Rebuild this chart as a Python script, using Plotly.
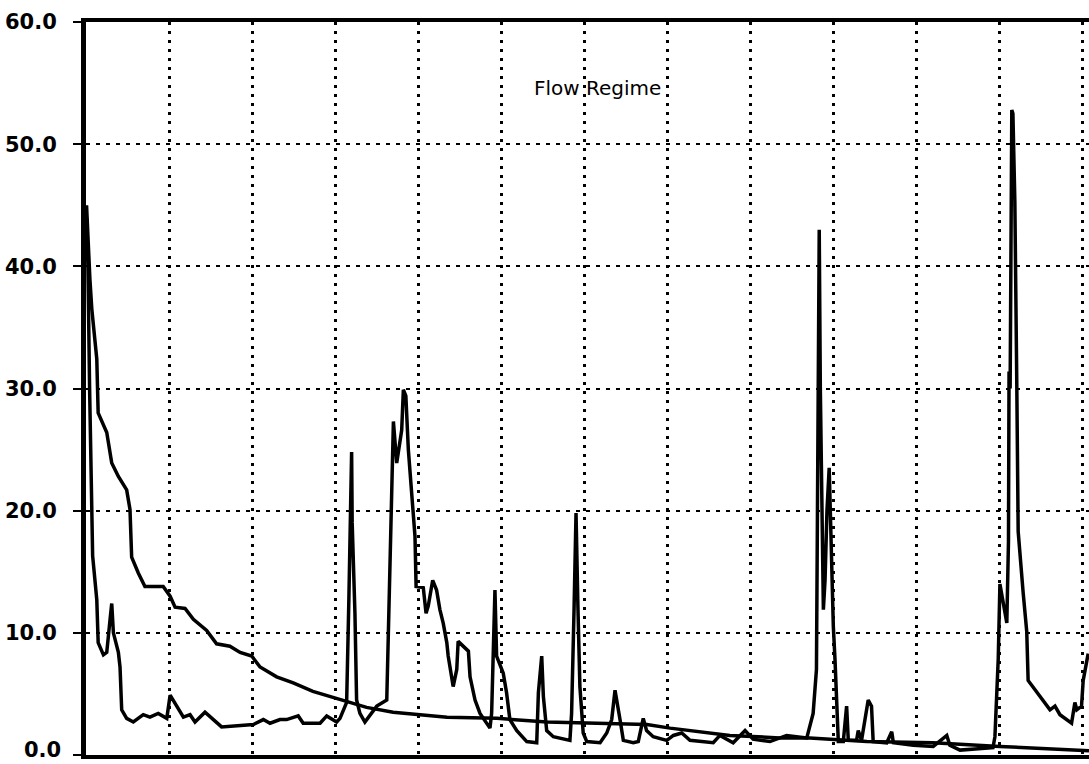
import plotly.graph_objects as go

# Hydrograph (day of record, flow)
hydro_day = [0.2, 0.7, 1.3, 1.8, 2.4, 3.9, 4.4, 6.3, 7.5, 8.7, 9.3, 9.9, 11.7, 12.3, 12.9, 14.7, 17.1,
             20.7, 23.1, 26.1, 29.2, 30.4, 32.8, 35.2, 37.6, 39.4, 43.0, 46.0, 49.0, 60.5, 64.1, 66.5,
             70.1, 72.5, 76.7, 78.5, 84.6, 87.0, 90.6, 91.8, 94.2, 95.0, 96.0, 96.2, 97.2, 97.8, 99.0,
             100.8, 105.1, 108.7, 109.3, 109.9, 110.5, 111.1, 112.3, 113.5, 114.1, 114.7, 115.6, 116.5,
             117.7, 118.9, 119.3, 121.9, 122.9, 123.7, 125.3, 126.7, 127.9, 129.1, 130.4, 130.9, 132.7,
             134.0, 134.5, 136.4, 138.2, 138.8, 140.6, 142.4, 144.8, 146.0, 146.6, 147.2, 147.8, 148.4,
             150.8, 152.0, 153.2, 155.7, 159.3, 162.9, 163.5, 164.7, 165.3, 166.5, 168.9, 174.9, 175.5,
             176.4, 177.1, 177.8, 178.5, 179.7, 181.0, 185.8, 188.2, 190.0, 191.2, 193.0, 194.2, 197.8,
             199.6, 201.4, 202.6, 205.0, 209.9, 212.3, 215.3, 218.3, 226.7, 229.1, 233.9, 238.2, 241.1,
             247.2, 253.2, 260.5, 262.8, 264.0, 264.5, 265.0, 265.4, 266.0, 266.5, 267.1, 267.8, 268.6,
             269.5, 270.1, 270.7, 271.3, 271.9, 273.7, 274.9, 275.5, 278.5, 279.1, 280.3, 282.7, 283.9,
             284.5, 289.4, 291.2, 291.8, 299.0, 306.2, 311.1, 312.2, 315.9, 327.8, 328.5, 329.1, 329.7,
             330.3, 331.5, 332.8, 333.4, 333.6, 334.0, 334.6, 335.0, 335.7, 336.4, 336.9, 338.7, 340.0,
             340.5, 344.8, 348.4, 350.2, 352.0, 356.2, 357.4, 358.1, 359.8, 360.4, 362.2]
hydro_flow = [44.0, 40.0, 30.0, 22.0, 16.3, 12.7, 9.2, 8.2, 8.4, 11.1, 12.4, 10.0, 8.4, 7.2, 3.7, 3.0, 2.7,
              3.3, 3.1, 3.4, 3.0, 4.9, 4.0, 3.1, 3.3, 2.7, 3.5, 2.9, 2.3, 2.5, 2.9, 2.6,
              2.9, 2.9, 3.2, 2.6, 2.6, 3.2, 2.7, 3.0, 4.3, 12.7, 24.8, 19.0, 11.6, 4.5, 3.4,
              2.7, 4.0, 4.5, 10.0, 16.8, 22.3, 27.3, 23.9, 25.6, 26.6, 29.9, 29.4, 25.0,
              21.2, 17.9, 13.8, 13.7, 11.6, 12.2, 14.3, 13.5, 11.9, 10.8, 9.2, 8.1, 5.6,
              7.0, 9.3, 8.9, 8.5, 6.4, 4.5, 3.4, 2.6, 2.2, 3.4, 7.8, 13.5, 8.1,
              6.7, 5.1, 2.9, 2.0, 1.1, 1.0, 5.1, 8.1, 4.8, 2.0, 1.5, 1.2, 3.4,
              12.0, 19.8, 12.0, 5.6, 1.8, 1.1, 1.0, 1.8, 2.9, 5.3, 2.9, 1.2, 1.0,
              1.1, 3.0, 2.0, 1.5, 1.2, 1.6, 1.8, 1.2, 1.0, 1.6, 1.0, 2.0, 1.3,
              1.1, 1.6, 1.4, 3.4, 7.0, 30.0, 43.0, 30.0, 20.0, 11.9, 14.3, 20.0, 23.5,
              14.3, 10.5, 7.8, 3.7, 1.1, 1.1, 4.0, 1.2, 1.2, 2.0, 1.2, 4.5, 4.0,
              1.1, 1.0, 1.9, 1.0, 0.8, 0.7, 1.6, 0.8, 0.4, 0.6, 1.5, 4.5, 7.9,
              14.0, 12.5, 10.8, 17.5, 31.4, 30.0, 52.8, 52.5, 45.3, 30.4, 18.3, 13.3, 10.1,
              6.1, 4.8, 3.7, 4.0, 3.3, 2.6, 4.3, 3.7, 4.0, 6.1, 8.3]

# Flow duration curve
dur_day = [0.2, 0.7, 1.4, 2.1, 3.9, 4.4, 7.5, 9.3, 11.7, 14.7, 15.9, 16.5, 18.9, 21.3, 27.9, 30.4, 32.2,
           35.8, 38.8, 43.6, 47.2, 52.0, 55.7, 59.9, 62.9, 68.9, 74.9, 82.0, 89.3, 95.4, 101.4, 111.0,
           130.5, 148.5, 166.6, 184.7, 202.7, 211.1, 220.8, 232.7, 250.8, 261.6, 282.2, 306.1, 330.3,
           360.3, 362.5]
dur_flow = [45.0, 42.0, 39.0, 36.5, 32.4, 28.0, 26.4, 23.9, 22.8, 21.7, 20.1, 16.2, 14.9, 13.8, 13.8, 13.0, 12.1,
            12.0, 11.1, 10.2, 9.1, 8.9, 8.4, 8.1, 7.2, 6.4, 5.9, 5.2, 4.7, 4.3, 3.9, 3.5,
            3.1, 3.0, 2.7, 2.6, 2.5, 2.2, 1.9, 1.6, 1.4, 1.4, 1.1, 1.0, 0.7,
            0.4, 0.35]

y_ticks = [0, 10, 20, 30, 40, 50, 60]
y_labels = ["0.0", "10.0", "20.0", "30.0", "40.0", "50.0", "60.0"]
title_text = "Flow Regime"

tick_font = dict(family="DejaVu Sans", size=21, color="black", weight="bold")

fig = go.Figure()
fig.add_trace(go.Scatter(x=dur_day, y=dur_flow, mode="lines",
                         line=dict(color="black", width=3.5), showlegend=False))
fig.add_trace(go.Scatter(x=hydro_day, y=hydro_flow, mode="lines",
                         line=dict(color="black", width=3.5), showlegend=False))

# the lowest label is placed as an annotation so it stays fully inside the page
shown_text = [t if v != 0 else "" for v, t in zip(y_ticks, y_labels)]

fig.update_layout(
    width=1089, height=764,
    margin=dict(l=86, r=0, t=22, b=9, autoexpand=False),
    paper_bgcolor="white", plot_bgcolor="white",
    showlegend=False,
    xaxis=dict(range=[0, 362.5], tickmode="linear", tick0=0, dtick=30,
               showticklabels=False, ticks="",
               showgrid=True, gridcolor="black", gridwidth=2.5, griddash="3px,6px",
               showline=True, linecolor="black", linewidth=4, mirror=True,
               zeroline=False, automargin=False),
    yaxis=dict(range=[0, 60], tickmode="array", tickvals=y_ticks, ticktext=shown_text,
               ticks="outside", ticklen=8, tickwidth=2, tickcolor="black",
               ticklabelstandoff=12, tickfont=tick_font,
               showgrid=True, gridcolor="black", gridwidth=1.5, griddash="4px,6px",
               showline=True, linecolor="black", linewidth=5, mirror=False,
               zeroline=False, automargin=False),
    annotations=[
        dict(text=title_text, xref="paper", yref="paper",
             x=(597 - 86) / 1003, y=(755 - 88) / 733,
             xanchor="center", yanchor="middle", showarrow=False,
             font=dict(family="DejaVu Sans", size=20, color="black")),
        dict(text=y_labels[0], xref="paper", yref="y",
             x=-(86 - 63) / 1003, y=y_ticks[0],
             xanchor="right", yanchor="middle", yshift=5, showarrow=False,
             font=tick_font),
    ],
)

fig.write_html("out.html")
